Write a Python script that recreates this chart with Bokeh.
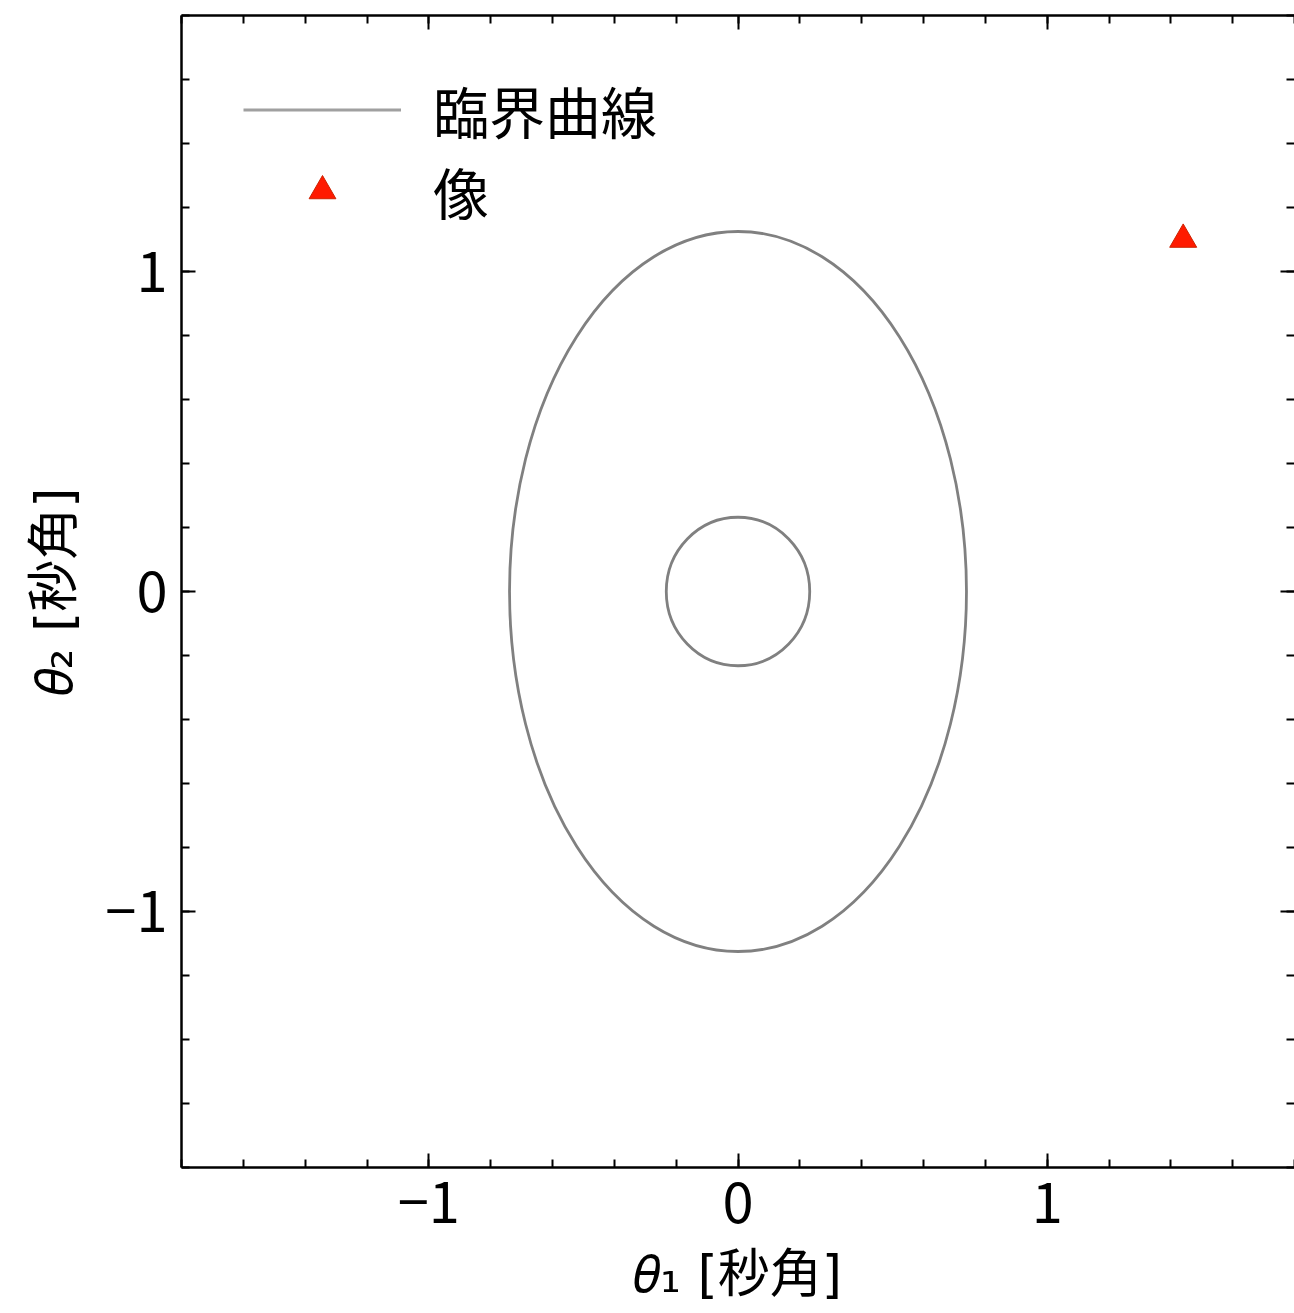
from bokeh.plotting import figure
from bokeh.models import (Range1d, SingleIntervalTicker, LinearAxis, Legend, LegendItem,
                          CustomJSTickFormatter)
from bokeh.embed import file_html
from bokeh.resources import INLINE

# Critical curves (ellipses centred at origin), arcsec
curve_x = [0.0, 0.0]
curve_y = [0.0, 0.0]
curve_width = [1.478, 0.464]   # full width along theta1
curve_height = [2.25, 0.464]   # full height along theta2

# Lensed image positions, arcsec
image_x = [1.44]
image_y = [1.10]

x_label = "𝜃₁ [秒角]"
y_label = "𝜃₂ [秒角]"
legend_labels = ["臨界曲線", "像"]
tick_overrides = {-1: "−1", 0: "0", 1: "1"}

FONT = "Noto Sans CJK JP"
LABEL_FONT = "'DejaVu Sans', 'Noto Sans CJK JP'"

p = figure(width=1294, height=1313, output_backend="svg", toolbar_location=None,
           x_range=Range1d(-1.8, 1.8), y_range=Range1d(-1.8, 1.8),
           min_border_left=181, min_border_bottom=146, min_border_top=15, min_border_right=0)
p.xgrid.visible = False
p.ygrid.visible = False
p.outline_line_color = None
p.background_fill_color = "white"
p.border_fill_color = "white"

r_curve = p.ellipse(x=curve_x, y=curve_y, width=curve_width, height=curve_height,
                    fill_color=None, line_color="#808080", line_width=2.8)
# legend proxy for the critical-curve line (draws nothing in the plot area)
r_leg_line = p.line(x=[float("nan")], y=[float("nan")], line_color="#a0a0a0", line_width=2.8)
r_img = p.scatter(x=image_x, y=image_y, marker="triangle", size=27,
                  fill_color="#ff1a00", line_color="#cc2200", line_width=1)

def style_axis(ax, labels=True, spine=True):
    ax.ticker = SingleIntervalTicker(interval=1, num_minor_ticks=5)
    if spine:
        ax.axis_line_color = "black"
        ax.axis_line_width = 2.5
    else:
        ax.axis_line_color = None
    ax.major_tick_in = 14
    ax.major_tick_out = 0
    ax.minor_tick_in = 8
    ax.minor_tick_out = 0
    ax.major_tick_line_width = 2
    ax.minor_tick_line_width = 2
    ax.major_tick_line_color = "black"
    ax.minor_tick_line_color = "black"
    if labels:
        ax.major_label_text_font = FONT
        ax.major_label_text_font_size = "56px"
        ax.major_label_text_color = "black"
        ax.major_label_overrides = tick_overrides
        ax.axis_label_text_font = LABEL_FONT
        ax.axis_label_text_font_size = "52px"
        ax.axis_label_text_font_style = "normal"
        ax.axis_label_text_color = "black"
    else:
        ax.formatter = CustomJSTickFormatter(code="return '';")
        ax.major_label_standoff = 0

xa = p.xaxis[0]
ya = p.yaxis[0]
style_axis(xa)
style_axis(ya)
xa.axis_label = x_label
ya.axis_label = y_label
xa.major_label_standoff = 14
ya.major_label_standoff = 14
xa.axis_label_standoff = 18
ya.axis_label_standoff = 18

top = LinearAxis()
style_axis(top, labels=False)
p.add_layout(top, "above")
right = LinearAxis()
style_axis(right, labels=False, spine=False)
p.add_layout(right, "right")

legend = Legend(items=[LegendItem(label=legend_labels[0], renderers=[r_leg_line]),
                       LegendItem(label=legend_labels[1], renderers=[r_img])],
                location=(62, 936))
legend.border_line_color = None
legend.background_fill_alpha = 0
legend.margin = 0
legend.padding = 0
legend.glyph_width = 158
legend.glyph_height = 67
legend.label_standoff = 32
legend.spacing = 0
legend.label_text_font = FONT
legend.label_text_font_size = "56px"
legend.label_text_color = "black"
p.add_layout(legend)

open("out.html", "w").write(file_html(p, INLINE))
